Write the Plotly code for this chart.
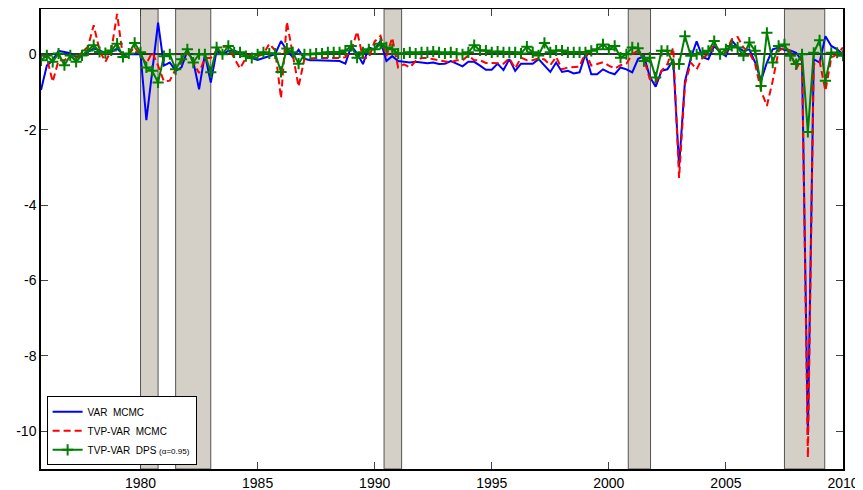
import plotly.graph_objects as go

# quarterly dates 1975Q4 .. 2010Q1 (decimal years)
start_year = 1975.75
n_quarters = 138
dates = [start_year + 0.25 * k for k in range(n_quarters)]

var_mcmc = [
    -0.95,
    -0.30, -0.16, 0.09, 0.06,      # 1976
    0.03, -0.07, -0.02, 0.06,      # 1977
    0.15, 0.10, 0.03, 0.06,        # 1978
    0.15, 0.00, 0.00, 0.00,        # 1979
    0.00, -1.75, -0.45, 0.84,      # 1980
    -0.30, -0.22, -0.44, -0.35,    # 1981
    0.09, -0.18, -0.93, 0.00,      # 1982
    -0.75, 0.09, 0.00, 0.09,       # 1983
    0.09, 0.04, -0.05, -0.10,      # 1984
    -0.15, -0.10, -0.05, 0.00,     # 1985
    0.35, 0.10, -0.08, 0.12,       # 1986
    -0.12, -0.16, -0.16, -0.16,    # 1987
    -0.16, -0.16, -0.18, -0.25,    # 1988
    0.22, 0.02, -0.26, 0.18,       # 1989
    0.13, 0.35, -0.18, -0.05,      # 1990
    -0.18, -0.20, -0.22, -0.20,    # 1991
    -0.22, -0.24, -0.22, -0.26,    # 1992
    -0.25, -0.18, -0.25, -0.32,    # 1993
    -0.20, -0.20, -0.30, -0.41,    # 1994
    -0.41, -0.25, -0.42, -0.13,    # 1995
    -0.44, -0.25, -0.25, -0.25,    # 1996
    -0.13, -0.30, -0.47, -0.22,    # 1997
    -0.47, -0.44, -0.51, -0.48,    # 1998
    0.00, -0.53, -0.53, -0.40,     # 1999
    -0.48, -0.53, -0.35, -0.40,    # 2000
    -0.48, -0.12, -0.05, -0.60,    # 2001
    -0.86, -0.44, -0.40, -0.15,    # 2002
    -2.98, -0.72, -0.10, 0.34,     # 2003
    -0.08, -0.13, 0.22, 0.06,      # 2004
    -0.05, 0.37, 0.18, 0.09,       # 2005
    0.13, -0.22, -0.70, -0.22,     # 2006
    0.13, 0.18, 0.11, 0.10,        # 2007
    0.04, -0.18, -10.10, -0.13,    # 2008
    -0.22, 0.48, 0.22, 0.13,       # 2009
    0.00,                          # 2010
]

tvp_var_mcmc = [
    0.00,
    -0.10, -0.73, -0.16, -0.16,    # 1976
    -0.03, -0.16, 0.06, 0.19,      # 1977
    0.77, 0.10, -0.20, 0.10,       # 1978
    1.07, -0.07, 0.00, 0.19,       # 1979
    -0.03, -0.25, 0.05, -0.30,     # 1980
    -0.72, -0.70, -0.40, -0.20,    # 1981
    0.05, -0.20, -0.50, -0.10,     # 1982
    -0.10, 0.10, 0.20, 0.20,       # 1983
    -0.10, -0.38, -0.10, 0.00,     # 1984
    -0.05, 0.00, 0.28, 0.10,       # 1985
    -1.17, 0.86, 0.00, -0.86,      # 1986
    -0.12, -0.10, -0.10, -0.10,    # 1987
    -0.10, -0.10, -0.10, -0.08,    # 1988
    0.10, 0.60, -0.10, -0.10,      # 1989
    0.34, 0.49, -0.05, 0.44,       # 1990
    -0.35, -0.27, -0.35, -0.18,    # 1991
    -0.10, -0.10, -0.13, -0.17,    # 1992
    -0.20, -0.22, -0.16, -0.16,    # 1993
    -0.03, -0.16, -0.16, -0.23,    # 1994
    -0.23, -0.25, -0.25, -0.11,    # 1995
    -0.38, -0.09, -0.16, -0.16,    # 1996
    -0.11, -0.14, -0.29, -0.07,    # 1997
    -0.40, -0.35, -0.33, -0.33,    # 1998
    0.06, -0.30, -0.26, -0.21,     # 1999
    -0.30, -0.38, -0.29, -0.25,    # 2000
    0.00, 0.10, -0.13, -0.66,      # 2001
    -0.75, -0.44, -0.26, 0.18,     # 2002
    -3.28, -0.80, -0.22, -0.40,    # 2003
    -0.09, 0.00, 0.26, 0.09,       # 2004
    0.04, 0.40, 0.46, 0.18,        # 2005
    0.04, -0.26, -0.97, -1.37,     # 2006
    -0.70, 0.09, 0.18, 0.09,       # 2007
    -0.40, -0.09, -10.70, -0.26,   # 2008
    -0.18, -0.97, -0.09, 0.00,     # 2009
    0.18,                          # 2010
]

tvp_var_dps = [
    -0.16,
    -0.03, -0.20, 0.02, -0.29,     # 1976
    -0.03, -0.20, -0.03, 0.10,     # 1977
    0.24, 0.06, 0.03, 0.10,        # 1978
    0.28, -0.07, 0.02, 0.30,       # 1979
    0.05, -0.35, -0.44, -0.75,     # 1980
    -0.05, 0.00, -0.40, -0.13,     # 1981
    0.13, -0.22, 0.00, 0.00,       # 1982
    -0.48, 0.18, 0.00, 0.22,       # 1983
    0.05, 0.05, -0.05, -0.10,      # 1984
    0.00, 0.05, 0.02, 0.02,        # 1985
    -0.47, 0.15, 0.05, -0.25,      # 1986
    0.00, 0.00, 0.02, 0.02,        # 1987
    0.05, 0.05, 0.05, 0.10,        # 1988
    0.22, -0.09, 0.05, 0.13,       # 1989
    0.13, 0.28, 0.18, 0.13,        # 1990
    0.02, 0.02, 0.05, 0.02,        # 1991
    0.05, 0.05, 0.07, 0.05,        # 1992
    0.02, 0.05, 0.02, 0.00,        # 1993
    0.05, 0.24, 0.10, 0.10,        # 1994
    0.05, 0.07, 0.05, 0.05,        # 1995
    0.05, 0.02, 0.20, 0.05,        # 1996
    -0.03, 0.30, 0.05, 0.10,       # 1997
    0.10, 0.05, 0.05, 0.05,        # 1998
    0.05, 0.09, 0.13, 0.26,        # 1999
    0.13, 0.22, -0.09, 0.00,       # 2000
    0.18, 0.16, -0.18, -0.09,      # 2001
    -0.62, 0.09, 0.09, -0.26,      # 2002
    -0.26, 0.48, -0.04, 0.00,      # 2003
    0.04, 0.09, 0.35, 0.00,        # 2004
    0.13, 0.22, 0.18, -0.04,       # 2005
    0.31, 0.09, -0.84, 0.57,       # 2006
    -0.22, 0.22, 0.26, -0.04,      # 2007
    -0.26, 0.00, -2.06, 0.04,      # 2008
    0.37, -0.70, 0.04, 0.04,       # 2009
    -0.04,                         # 2010
]

recession_starts = [1980.0, 1981.5, 1990.4, 2000.83, 2007.5]
recession_ends = [1980.75, 1983.0, 1991.15, 2001.78, 2009.22]

x_tick_vals = [1980, 1985, 1990, 1995, 2000, 2005, 2010]
x_tick_text = ["1980", "1985", "1990", "1995", "2000", "2005", "2010"]
y_tick_vals = [-10, -8, -6, -4, -2, 0]
y_tick_text = ["-10", "-8", "-6", "-4", "-2", "0"]

series_names = [
    "VAR  MCMC",
    "TVP-VAR  MCMC",
    "TVP-VAR  DPS <span style='font-size:8px'>(\u03b1=0.95)</span>",
]

fig = go.Figure()

fig.add_trace(go.Scatter(
    x=dates, y=var_mcmc, mode="lines", name=series_names[0],
    line=dict(color="#0000ff", width=2),
))
fig.add_trace(go.Scatter(
    x=dates, y=tvp_var_mcmc, mode="lines", name=series_names[1],
    line=dict(color="#ff0000", width=2, dash="7px,4px"),
))
fig.add_trace(go.Scatter(
    x=dates, y=tvp_var_dps, mode="lines+markers", name=series_names[2],
    line=dict(color="#007f00", width=2),
    marker=dict(symbol="cross-thin", size=8, color="#007f00",
                line=dict(width=2, color="#007f00")),
))

for s, e in zip(recession_starts, recession_ends):
    fig.add_shape(type="rect", xref="x", yref="paper", x0=s, x1=e, y0=0, y1=1,
                  fillcolor="#d4d0c8", line=dict(color="#555555", width=1),
                  layer="below")

# the page body adds an 8px offset, so the figure is sized to compensate
fig.update_layout(
    width=855, height=482,
    margin=dict(l=33, r=20, t=1, b=21, autoexpand=False),
    paper_bgcolor="white", plot_bgcolor="white",
    font=dict(family="Liberation Sans, Arial, sans-serif", size=14, color="black"),
    showlegend=True,
    legend=dict(
        x=0.007, y=0.008, xanchor="left", yanchor="bottom",
        bgcolor="white", bordercolor="black", borderwidth=1,
        font=dict(size=10), tracegroupgap=0, itemwidth=30,
    ),
)
fig.update_xaxes(
    range=[1975.75, 2010.0], tickvals=x_tick_vals, ticktext=x_tick_text,
    ticks="inside", ticklen=7, tickcolor="#444", showgrid=False,
    showline=True, linecolor="black", linewidth=1.5, mirror="ticks",
    zeroline=False, automargin=False,
)
fig.update_yaxes(
    range=[-11, 1.2], tickvals=y_tick_vals, ticktext=y_tick_text,
    ticks="inside", ticklen=7, tickcolor="#444", showgrid=False,
    showline=True, linecolor="black", linewidth=1.5, mirror="ticks",
    zeroline=True, zerolinecolor="#333333", zerolinewidth=1.5,
    automargin=False,
)

fig.write_html("out.html")
